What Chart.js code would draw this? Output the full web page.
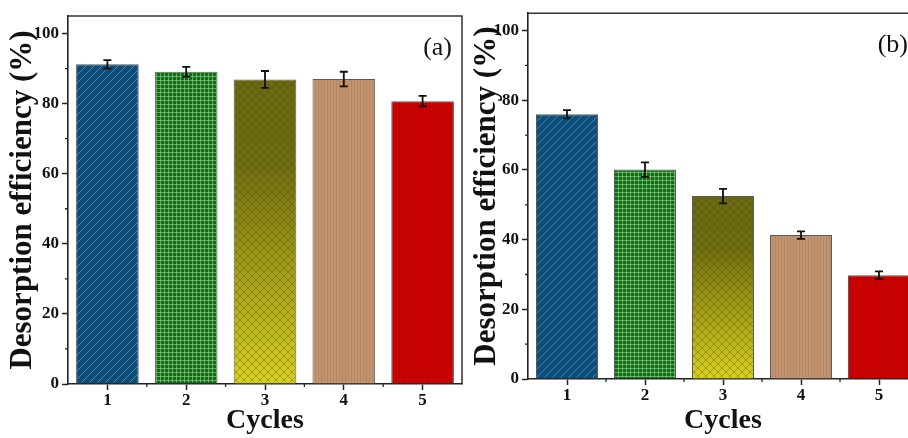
<!DOCTYPE html>
<html>
<head>
<meta charset="utf-8">
<script src="https://cdn.jsdelivr.net/npm/chart.js@4/dist/chart.umd.min.js"></script>
<style>
  html, body { margin: 0; padding: 0; background: #fff; }
  #wrap { position: relative; width: 908px; height: 438px; overflow: hidden; background: #fff; }
  #boxA { position: absolute; left: 0; top: 0; width: 466px; height: 438px; }
  #boxB { position: absolute; left: 466px; top: 0; width: 460px; height: 438px; }
</style>
</head>
<body>
<div id="wrap">
  <div id="boxA"><canvas id="chartA" width="466" height="438"></canvas></div>
  <div id="boxB"><canvas id="chartB" width="460" height="438"></canvas></div>
</div>
<script>
// Reuse cycles and desorption efficiency (%) with standard deviations
const cycles = ['1', '2', '3', '4', '5'];
const efficiencyA = [91.2, 89.1, 86.9, 87.0, 80.7];
const errorA = [1.2, 1.4, 2.4, 2.1, 1.5];
const efficiencyB = [76.0, 60.1, 52.5, 41.3, 29.8];
const errorB = [1.2, 2.1, 2.1, 1.1, 1.1];
const yTicks = [0, 20, 40, 60, 80, 100];
const yMinorTicks = [10, 30, 50, 70, 90];

const SERIF = '"Liberation Serif", "Times New Roman", serif';
const baseColors = ['#0d4d79', '#0f6d13', '#8c8a18', '#c29470', '#cf0000'];

// Small repeating tiles used as hatch overlays on each bar
function tile(w, h, draw) {
  const c = document.createElement('canvas');
  c.width = w; c.height = h;
  draw(c.getContext('2d'), w, h);
  return c;
}
const hatchTiles = [
  tile(8, 8, g => {            // diagonal lines
    g.strokeStyle = 'rgba(120,170,210,0.6)'; g.lineWidth = 1;
    g.beginPath();
    g.moveTo(-1, 9); g.lineTo(9, -1);
    g.moveTo(-5, 5); g.lineTo(5, -5);
    g.moveTo(3, 13); g.lineTo(13, 3);
    g.stroke();
  }),
  tile(4, 4, g => {            // fine grid
    g.fillStyle = 'rgba(160,210,150,0.6)';
    g.fillRect(0, 0, 1, 4); g.fillRect(0, 0, 4, 1);
  }),
  tile(8, 8, g => {            // crosshatch
    g.strokeStyle = 'rgba(70,70,0,0.35)'; g.lineWidth = 1;
    g.beginPath();
    g.moveTo(0, 0); g.lineTo(8, 8);
    g.moveTo(8, 0); g.lineTo(0, 8);
    g.stroke();
  }),
  tile(3, 1, g => {            // vertical lines
    g.fillStyle = 'rgba(130,85,45,0.22)'; g.fillRect(0, 0, 1, 1);
  }),
  tile(3, 1, g => {            // vertical lines
    g.fillStyle = 'rgba(110,0,0,0.28)'; g.fillRect(0, 0, 1, 1);
  })
];

function barFill(c) {
  const i = c.dataIndex;
  const chart = c.chart;
  if (i === 2 && chart.chartArea && chart.scales.y) {
    const ys = chart.scales.y;
    const top = ys.getPixelForValue(c.dataset.data[i]);
    const bot = ys.getPixelForValue(0);
    const g = chart.ctx.createLinearGradient(0, top, 0, bot);
    g.addColorStop(0, '#6b6912');
    g.addColorStop(0.28, '#706e12');
    g.addColorStop(1, '#d8d020');
    return g;
  }
  return baseColors[i];
}

// Hatch overlays, error bars, minor ticks, frame and panel tag
const decor = {
  id: 'decor',
  afterDatasetsDraw(chart) {
    const ctx = chart.ctx;
    const meta = chart.getDatasetMeta(0);
    const ds = chart.data.datasets[0];
    const ys = chart.scales.y, xs = chart.scales.x;
    const area = chart.chartArea;

    meta.data.forEach((el, i) => {
      const p = el.getProps(['x', 'y', 'base', 'width'], true);
      const l = p.x - p.width / 2 + 1, r = p.x + p.width / 2 - 1;
      const t = p.y + 1, b = p.base - 1;
      ctx.save();
      ctx.fillStyle = ctx.createPattern(hatchTiles[i], 'repeat');
      ctx.fillRect(l, t, r - l, b - t);
      ctx.restore();
    });

    ctx.save();
    ctx.strokeStyle = '#111';
    ctx.lineWidth = 1.8;
    meta.data.forEach((el, i) => {
      const x = el.getProps(['x'], true).x;
      const v = ds.data[i], e = ds.errors[i];
      const y1 = ys.getPixelForValue(v + e), y0 = ys.getPixelForValue(v - e);
      ctx.beginPath();
      ctx.moveTo(x, y0); ctx.lineTo(x, y1);
      ctx.moveTo(x - 4, y1); ctx.lineTo(x + 4, y1);
      ctx.moveTo(x - 4, y0); ctx.lineTo(x + 4, y0);
      ctx.stroke();
    });
    ctx.restore();

    ctx.save();
    ctx.strokeStyle = '#222';
    ctx.lineWidth = 1.3;
    ctx.beginPath();
    yMinorTicks.forEach(v => {
      const y = ys.getPixelForValue(v);
      ctx.moveTo(area.left - 3, y); ctx.lineTo(area.left, y);
    });
    for (let i = 0; i < cycles.length - 1; i++) {
      const x = (xs.getPixelForValue(i) + xs.getPixelForValue(i + 1)) / 2;
      ctx.moveTo(x, area.bottom); ctx.lineTo(x, area.bottom + 3);
    }
    ctx.stroke();

    ctx.strokeStyle = '#333';
    ctx.lineWidth = 1.5;
    ctx.beginPath();
    ctx.moveTo(area.left, area.top); ctx.lineTo(area.right, area.top); ctx.lineTo(area.right, area.bottom);
    ctx.stroke();

    ctx.fillStyle = '#111';
    ctx.font = '26px ' + SERIF;
    ctx.textAlign = 'right';
    ctx.textBaseline = 'middle';
    ctx.fillText(chart.options.plugins.decor.tag, area.right - 10, area.top + 32);
    ctx.restore();
  }
};

function makeChart(id, values, errors, tag, geom) {
  const tickFont = { family: SERIF, weight: 'bold', size: 17 };
  return new Chart(document.getElementById(id), {
    type: 'bar',
    data: {
      labels: cycles,
      datasets: [{
        data: values,
        errors: errors,
        backgroundColor: barFill,
        borderColor: '#5a5a5a',
        borderWidth: 1,
        barPercentage: 0.795,
        categoryPercentage: 1
      }]
    },
    options: {
      responsive: false,
      animation: false,
      events: [],
      layout: { padding: { left: 0, right: geom.padRight, top: geom.padTop, bottom: 0 } },
      plugins: { legend: { display: false }, tooltip: { enabled: false }, decor: { tag } },
      scales: {
        x: {
          type: 'category',
          offset: true,
          grid: { drawOnChartArea: false, offset: false, tickLength: 6, tickWidth: 1.5, tickColor: '#222' },
          border: { color: '#222', width: 1.6 },
          ticks: { color: '#111', font: tickFont, padding: 0, maxRotation: 0 },
          title: { display: true, text: 'Cycles', color: '#111',
                   font: { family: SERIF, weight: 'bold', size: 28 }, padding: { top: 0, bottom: 0 } },
          afterFit: s => { s.height = geom.xHeight; }
        },
        y: {
          min: 0, max: 105,
          afterBuildTicks: s => { s.ticks = yTicks.map(v => ({ value: v })); },
          grid: { drawOnChartArea: false, tickLength: 6, tickWidth: 1.5, tickColor: '#222' },
          border: { color: '#222', width: 1.6 },
          ticks: { color: '#111', font: tickFont, padding: 3 },
          title: { display: true, text: 'Desorption efficiency (%)', color: '#111',
                   font: { family: SERIF, weight: 'bold', size: 31 }, padding: { top: geom.titlePad, bottom: 0 } },
          afterFit: s => { s.width = geom.yWidth; }
        }
      }
    },
    plugins: [decor]
  });
}

makeChart('chartA', efficiencyA, errorA, '(a)',
  { padRight: 4, padTop: 16, xHeight: 54, yWidth: 68, titlePad: 4.4 });
makeChart('chartB', efficiencyB, errorB, '(b)',
  { padRight: 8, padTop: 13, xHeight: 59, yWidth: 62, titlePad: 2.4 });
</script>
</body>
</html>
